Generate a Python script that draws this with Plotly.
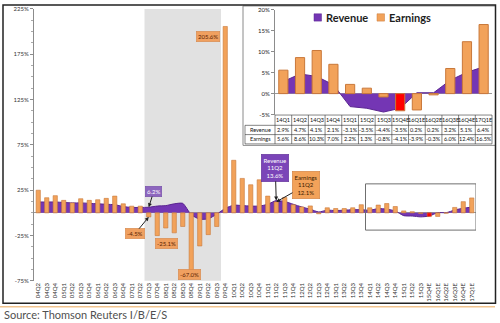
import plotly.graph_objects as go

W, H = 500, 323
def px(x): return x / W
def py(y): return 1 - y / H

# ---------------- data ----------------
quarters = ["04Q2", "04Q3", "04Q4",
            "05Q1", "05Q2", "05Q3", "05Q4",
            "06Q1", "06Q2", "06Q3", "06Q4",
            "07Q1", "07Q2", "07Q3", "07Q4",
            "08Q1", "08Q2", "08Q3", "08Q4",
            "09Q1", "09Q2", "09Q3", "09Q4",
            "10Q1", "10Q2", "10Q3", "10Q4",
            "11Q1", "11Q2", "11Q3", "11Q4",
            "12Q1", "12Q2", "12Q3", "12Q4",
            "13Q1", "13Q2", "13Q3", "13Q4",
            "14Q1", "14Q2", "14Q3", "14Q4",
            "15Q1", "15Q2", "15Q3", "15Q4E",
            "16Q1E", "16Q2E", "16Q3E", "16Q4E", "17Q1E"]

revenue = [12.0, 12.0, 12.0,
           11.5, 11.0, 11.0, 10.5,
           10.0, 9.5, 9.0, 7.0,
           6.0, 6.0, 6.2, 7.5,
           8.0, 10.0, 10.5, -2.0,
           -7.0, -6.5, -1.5, 5.0,
           8.5, 8.0, 7.5, 7.5,
           9.5, 13.6, 12.5, 9.5,
           6.5, 4.0, 1.0, 3.0,
           2.5, 3.0, 3.5, 3.5,
           2.9, 4.7, 4.1, 2.1,
           -3.1, -3.5, -4.4, -3.5,
           0.2, 0.2, 3.2, 5.1, 6.4]

earnings = [25.0, 16.7, 19.0,
            13.8, 11.0, 15.6, 13.8,
            14.5, 16.0, 18.5, 10.0,
            7.4, 7.4, -4.5, -25.1,
            -16.7, -22.0, -15.0, -67.0,
            -36.5, -24.0, -15.0, 205.6,
            58.0, 38.0, 31.0, 36.5,
            18.5, 12.1, 17.0, 9.0,
            6.6, 7.7, -1.0, 5.6,
            4.8, 4.8, 5.6, 9.0,
            5.6, 8.6, 10.3, 7.0,
            2.2, 1.3, -0.8, -4.1,
            -3.9, -0.3, 6.0, 12.4, 16.5]

inset_quarters = ["14Q1", "14Q2", "14Q3", "14Q4", "15Q1", "15Q2", "15Q3",
                  "15Q4E", "16Q1E", "16Q2E", "16Q3E", "16Q4E", "17Q1E"]
inset_revenue = [2.9, 4.7, 4.1, 2.1, -3.1, -3.5, -4.4, -3.5, 0.2, 0.2, 3.2, 5.1, 6.4]
inset_earnings = [5.6, 8.6, 10.3, 7.0, 2.2, 1.3, -0.8, -4.1, -3.9, -0.3, 6.0, 12.4, 16.5]
table_rows = ["Revenue", "Earnings"]

main_yticks = [-75, -25, 25, 75, 125, 175, 225]
inset_yticks = [-5, 0, 5, 10, 15, 20]
highlight_q = "15Q4E"

# ---------------- styles ----------------
PURPLE = "#7436B4"
PURPLE_LINE = "#5A2590"
ORANGE = "#F2A25A"
ORANGE_LINE = "#C9783A"
RED = "#FF0000"
FONT = "Lato"

xi = list(range(len(quarters)))
ii = list(range(len(inset_quarters)))

fig = go.Figure()

# main revenue area (behind bars)
fig.add_trace(go.Scatter(x=xi, y=revenue, mode="lines",
                         line=dict(color=PURPLE_LINE, width=1, shape="spline", smoothing=0.6),
                         fill="tozeroy", fillcolor=PURPLE, xaxis="x", yaxis="y", showlegend=False, hoverinfo="skip"))
# main earnings bars
fig.add_trace(go.Bar(x=xi, y=earnings, width=0.5,
                     marker=dict(color=[RED if q == highlight_q else ORANGE for q in quarters],
                                 line=dict(color=ORANGE_LINE, width=0.6)),
                     xaxis="x", yaxis="y3", showlegend=False))

# inset revenue area
fig.add_trace(go.Scatter(x=ii, y=inset_revenue, mode="lines", line=dict(color=PURPLE_LINE, width=1),
                         fill="tozeroy", fillcolor=PURPLE, xaxis="x2", yaxis="y2", showlegend=False))
# inset earnings bars
fig.add_trace(go.Bar(x=ii, y=inset_earnings, width=0.55,
                     marker=dict(color=[RED if q == highlight_q else ORANGE for q in inset_quarters],
                                 line=dict(color=ORANGE_LINE, width=1)),
                     xaxis="x2", yaxis="y4", showlegend=False))

axis_font = dict(family=FONT, size=6, color="#333")

MAIN_L, MAIN_R = 34, 476
INS_L, INS_R = 275, 492

fig.update_layout(
    width=W, height=H, margin=dict(l=0, r=0, t=0, b=0),
    paper_bgcolor="white", plot_bgcolor="rgba(0,0,0,0)",
    showlegend=False, barmode="overlay",
    xaxis=dict(domain=[px(MAIN_L), px(MAIN_R)], range=[-0.5, len(quarters) - 0.5],
               tickmode="array", tickvals=xi, ticktext=quarters, tickangle=-90,
               tickfont=axis_font, showgrid=False, zeroline=False, showline=False, ticks="",
               anchor="y"),
    yaxis=dict(domain=[py(283), py(5)], range=[-75, 225],
               tickmode="array", tickvals=main_yticks, ticktext=[f"{v}%" for v in main_yticks],
               tickfont=axis_font, showgrid=False, zeroline=True, zerolinecolor="#9a9a9a", zerolinewidth=1,
               showline=True, linecolor="#8c8c8c", linewidth=1, ticks="outside", ticklen=3, tickcolor="#8c8c8c",
               minor=dict(tickvals=[v + d for v in main_yticks[:-1] for d in (12.5, 25, 37.5)],
                          ticks="outside", ticklen=2, tickcolor="#aaaaaa"),
               anchor="x"),
    yaxis3=dict(overlaying="y", range=[-75, 225], visible=False, anchor="x"),
    xaxis2=dict(domain=[px(INS_L), px(INS_R)], range=[-0.5, len(inset_quarters) - 0.5],
                showticklabels=False, showgrid=False, zeroline=False, showline=False, ticks="",
                anchor="y2"),
    yaxis2=dict(domain=[py(113), py(6)], range=[-5, 20],
                tickmode="array", tickvals=inset_yticks, ticktext=[f"{v}%" for v in inset_yticks],
                tickfont=dict(family=FONT, size=6, color="#222"), showgrid=False,
                zeroline=True, zerolinecolor="#9a9a9a", zerolinewidth=1,
                showline=True, linecolor="#8c8c8c", linewidth=1, ticks="outside", ticklen=3, tickcolor="#8c8c8c",
                anchor="x2"),
    yaxis4=dict(overlaying="y2", range=[-5, 20], visible=False, anchor="x2"),
)

shapes = []
# recession shading 07Q3 - 09Q3
shapes.append(dict(type="rect", xref="x", yref="y domain", x0=quarters.index("07Q3") - 0.5,
                   x1=quarters.index("09Q3") + 0.5, y0=0, y1=1.0, fillcolor="#E1E1E1",
                   line=dict(width=0), layer="below"))
# inset white panel
shapes.append(dict(type="rect", xref="paper", yref="paper", x0=px(243), x1=px(495.5), y0=py(144.5), y1=py(2),
                   fillcolor="white", line=dict(color="#8a8a8a", width=1), layer="below"))
# box around the forecast region
shapes.append(dict(type="rect", xref="x", yref="y", x0=quarters.index("14Q1") - 0.5,
                   x1=quarters.index("17Q1E") + 0.5, y0=-19, y1=32,
                   line=dict(color="#6f6f6f", width=1), fillcolor="rgba(0,0,0,0)"))
# outer frame
shapes.append(dict(type="rect", xref="paper", yref="paper", x0=px(3), x1=px(495.5), y0=py(306), y1=py(1),
                   line=dict(color="#222", width=1.5), fillcolor="rgba(0,0,0,0)"))
# orange rule
shapes.append(dict(type="line", xref="paper", yref="paper", x0=0, x1=px(495), y0=py(309.5), y1=py(309.5),
                   line=dict(color="#F2C48E", width=1.5)))
# legend swatches
shapes.append(dict(type="rect", xref="paper", yref="paper", x0=px(314), x1=px(321.5), y0=py(17.5), y1=py(10),
                   fillcolor=PURPLE, line=dict(color=PURPLE_LINE, width=0.5)))
shapes.append(dict(type="rect", xref="paper", yref="paper", x0=px(377), x1=px(384.5), y0=py(17.5), y1=py(10),
                   fillcolor=ORANGE, line=dict(color=ORANGE_LINE, width=0.5)))

# ---- inset data table (grid from the inset categories) ----
n = len(inset_quarters)
col_w = (INS_R - INS_L) / n
LABEL_L = 245
row_edges = [113.5, 124, 133.5, 143]
grid = dict(color="#333", width=0.6)
for k in range(n + 1):
    xx = INS_L + k * col_w
    shapes.append(dict(type="line", xref="paper", yref="paper", x0=px(xx), x1=px(xx),
                       y0=py(row_edges[0]), y1=py(row_edges[-1]), line=grid))
shapes.append(dict(type="line", xref="paper", yref="paper", x0=px(LABEL_L), x1=px(LABEL_L),
                   y0=py(row_edges[1]), y1=py(row_edges[-1]), line=grid))
for j, ye in enumerate(row_edges):
    x_start = INS_L if j == 0 else LABEL_L
    shapes.append(dict(type="line", xref="paper", yref="paper", x0=px(x_start), x1=px(INS_R),
                       y0=py(ye), y1=py(ye), line=grid))
fig.update_layout(shapes=shapes)

small = dict(family=FONT, size=6)
tfont = dict(family=FONT, size=5.5, color="#111")
ann = []
# table text
for k, q in enumerate(inset_quarters):
    cx = INS_L + (k + 0.5) * col_w
    ann.append(dict(text=q, xref="paper", yref="paper", x=px(cx), y=py((row_edges[0] + row_edges[1]) / 2),
                    showarrow=False, font=tfont, xanchor="center", yanchor="middle"))
    for j, vals in enumerate((inset_revenue, inset_earnings)):
        ann.append(dict(text=f"{vals[k]:.1f}%", xref="paper", yref="paper", x=px(cx),
                        y=py((row_edges[j + 1] + row_edges[j + 2]) / 2),
                        showarrow=False, font=tfont, xanchor="center", yanchor="middle"))
for j, name in enumerate(table_rows):
    ann.append(dict(text=name, xref="paper", yref="paper", x=px((LABEL_L + INS_L) / 2),
                    y=py((row_edges[j + 1] + row_edges[j + 2]) / 2),
                    showarrow=False, font=tfont, xanchor="center", yanchor="middle"))
# legend text
ann.append(dict(text="<b>Revenue</b>", xref="paper", yref="paper", x=px(323.5), y=py(13.8), xanchor="left",
                yanchor="middle", showarrow=False, font=dict(family=FONT, size=11, color="#1e1e1e")))
ann.append(dict(text="<b>Earnings</b>", xref="paper", yref="paper", x=px(386.5), y=py(13.8), xanchor="left",
                yanchor="middle", showarrow=False, font=dict(family=FONT, size=11, color="#1e1e1e")))
# callouts
i13 = quarters.index("07Q3")
ann.append(dict(text="6.2%", x=i13, y=revenue[i13], xref="x", yref="y", ax=5, ay=-16, showarrow=True,
                arrowhead=2, arrowsize=0.8, arrowwidth=1, arrowcolor="#222", bgcolor="#8D66BE",
                bordercolor="#6f47a3", borderwidth=0.5, borderpad=1.5, font=dict(color="white", **small)))
ann.append(dict(text="-4.5%", x=i13, y=earnings[i13], xref="x", yref="y", ax=-14, ay=17, showarrow=True,
                arrowhead=2, arrowsize=0.8, arrowwidth=1, arrowcolor="#222", bgcolor="#F0A060",
                bordercolor="#d0844a", borderwidth=0.5, borderpad=1.5, font=dict(color="#5a1e00", **small)))
ann.append(dict(text="-25.1%", xref="paper", yref="paper", x=px(155), y=py(250), showarrow=False,
                bgcolor="#F0A060", bordercolor="#d0844a", borderwidth=0.5, borderpad=1.5,
                font=dict(color="#5a1e00", **small)))
ann.append(dict(text="-67.0%", xref="paper", yref="paper", x=px(189), y=py(282), showarrow=False,
                bgcolor="#F0A060", bordercolor="#d0844a", borderwidth=0.5, borderpad=1.5,
                font=dict(color="#5a1e00", **small)))
ann.append(dict(text="205.6%", xref="paper", yref="paper", x=px(207.5), y=py(28), showarrow=False,
                bgcolor="#F0A060", bordercolor="#d0844a", borderwidth=0.5, borderpad=1.5,
                font=dict(color="#5a1e00", **small)))
i28 = quarters.index("11Q2")
ann.append(dict(text=f"Revenue<br>11Q2<br>{revenue[i28]}%", x=i28, y=revenue[i28], xref="x", yref="y",
                ax=-1, ay=-33, showarrow=True, arrowhead=2, arrowsize=0.8, arrowwidth=1, arrowcolor="#222",
                bgcolor="#7B45B8", bordercolor="#5a2b90", borderwidth=0.5, borderpad=2,
                font=dict(color="white", **small)))
ann.append(dict(text=f"Earnings<br>11Q2<br>{earnings[i28]}%", x=i28, y=earnings[i28], xref="x", yref="y",
                ax=30, ay=-17, showarrow=True, arrowhead=2, arrowsize=0.8, arrowwidth=1, arrowcolor="#222",
                bgcolor="#F2A25A", bordercolor="#c9783a", borderwidth=0.5, borderpad=2,
                font=dict(color="#3a1a00", **small)))
# source
ann.append(dict(text="Source: Thomson Reuters I/B/E/S", xref="paper", yref="paper", x=px(2), y=py(317),
                xanchor="left", yanchor="middle", showarrow=False,
                font=dict(family=FONT, size=11, color="#505050")))
fig.update_layout(annotations=ann)

fig.write_html("out.html")
